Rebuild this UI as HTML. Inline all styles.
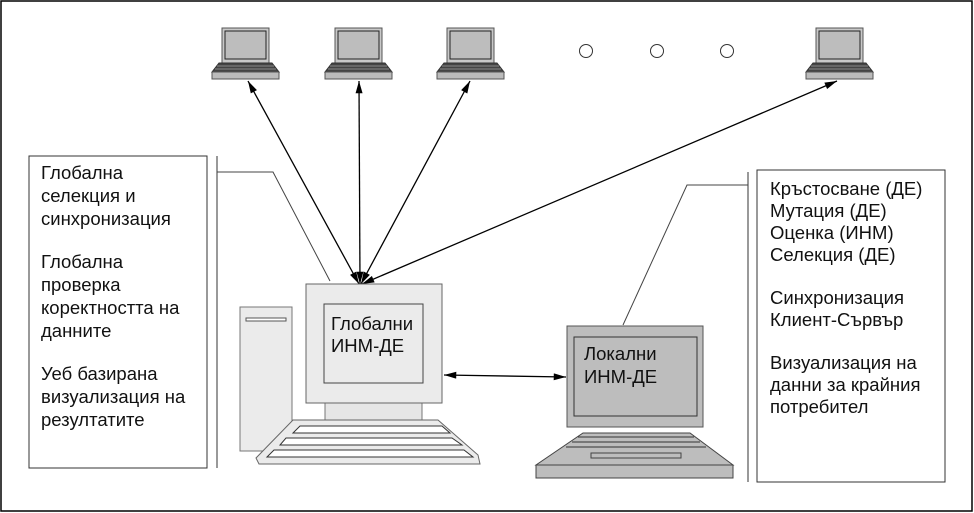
<!DOCTYPE html>
<html><head><meta charset="utf-8"><style>
html,body{margin:0;padding:0;background:#fff}
svg{display:block}
text{font-family:"Liberation Sans","DejaVu Sans",sans-serif;fill:#111}
</style></head><body>
<svg width="974" height="513" viewBox="0 0 974 513" xmlns="http://www.w3.org/2000/svg">
<defs>
<marker id="ah" viewBox="0 0 14 8" refX="14" refY="4" markerWidth="14" markerHeight="7" orient="auto-start-reverse" markerUnits="userSpaceOnUse"><path d="M0,0 L14,4 L0,8 Z" fill="#000"/></marker>
<g id="lap">
<rect x="0" y="0" width="47" height="35" fill="#c8c8c8" stroke="#555" stroke-width="1"/>
<rect x="3" y="3" width="41" height="28" fill="#bdbdbd" stroke="#222" stroke-width="1"/>
<path d="M-3,35 L50,35 L57,44 L-10,44 Z" fill="#444" stroke="#333"/>
<line x1="-5" y1="38" x2="52" y2="38" stroke="#888"/>
<line x1="-7" y1="41" x2="54" y2="41" stroke="#888"/>
<rect x="-10" y="44" width="67" height="7" fill="#bbb" stroke="#555"/>
</g>
</defs>
<rect x="1" y="1" width="971" height="510" fill="#fff" stroke="#000" stroke-width="1.5"/>
<use href="#lap" x="222" y="28"/>
<use href="#lap" x="335" y="28"/>
<use href="#lap" x="447" y="28"/>
<use href="#lap" x="816" y="28"/>
<circle cx="586" cy="51" r="6.5" fill="#fff" stroke="#333"/>
<circle cx="657" cy="51" r="6.5" fill="#fff" stroke="#333"/>
<circle cx="727" cy="51" r="6.5" fill="#fff" stroke="#333"/>
<g stroke="#000" stroke-width="1.3" marker-start="url(#ah)" marker-end="url(#ah)">
<line x1="248" y1="81" x2="359" y2="284"/>
<line x1="359" y1="81" x2="360" y2="284"/>
<line x1="470" y1="81" x2="361" y2="284"/>
<line x1="837" y1="81" x2="362" y2="284"/>
<line x1="444" y1="375" x2="566" y2="377"/>
</g>
<!-- left box -->
<rect x="29" y="156" width="178" height="312" fill="#fff" stroke="#333"/>
<line x1="217" y1="156" x2="217" y2="468" stroke="#333"/>
<polyline points="217,172 273,172 330,281" fill="none" stroke="#444"/>
<g font-size="18.5">
<text x="41" y="179">Глобална</text>
<text x="41" y="202">селекция и</text>
<text x="41" y="225">синхронизация</text>
<text x="41" y="268">Глобална</text>
<text x="41" y="291">проверка</text>
<text x="41" y="314">коректността на</text>
<text x="41" y="337">данните</text>
<text x="41" y="380">Уеб базирана</text>
<text x="41" y="403">визуализация на</text>
<text x="41" y="426">резултатите</text>
</g>
<!-- right box -->
<rect x="757" y="170" width="188" height="312" fill="#fff" stroke="#333"/>
<line x1="748" y1="172" x2="748" y2="482" stroke="#333"/>
<polyline points="748,185 687,185 623,325" fill="none" stroke="#444"/>
<g font-size="18.5">
<text x="770" y="195">Кръстосване (ДЕ)</text>
<text x="770" y="217">Мутация (ДЕ)</text>
<text x="770" y="239">Оценка (ИНМ)</text>
<text x="770" y="261">Селекция (ДЕ)</text>
<text x="770" y="304">Синхронизация</text>
<text x="770" y="326">Клиент-Сървър</text>
<text x="770" y="369">Визуализация на</text>
<text x="770" y="391">данни за крайния</text>
<text x="770" y="413">потребител</text>
</g>
<!-- desktop -->
<rect x="240" y="307" width="52" height="144" fill="#ebebeb" stroke="#777"/>
<rect x="246" y="318" width="40" height="3" fill="#fff" stroke="#555"/>
<rect x="325" y="403" width="97" height="18" fill="#e6e6e6" stroke="#777"/>
<rect x="306" y="284" width="136" height="119" fill="#ebebeb" stroke="#666"/>
<rect x="324" y="304" width="99" height="79" fill="#ebebeb" stroke="#444"/>
<text x="331" y="330" font-size="18.5">Глобални</text>
<text x="331" y="352" font-size="18.5">ИНМ-ДЕ</text>
<path d="M293,420 L438,420 L478,455 L480,464 L259,464 L256,458 Z" fill="#ebebeb" stroke="#666"/>
<path d="M300,426 L442,426 L450,433 L293,433 Z" fill="#fff" stroke="#333"/>
<path d="M286,438 L452,438 L462,445 L280,445 Z" fill="#fff" stroke="#333"/>
<path d="M274,450 L464,450 L473,457 L267,457 Z" fill="#fff" stroke="#333"/>
<!-- laptop -->
<rect x="567" y="326" width="136" height="101" fill="#bdbdbd" stroke="#555"/>
<rect x="574" y="337" width="123" height="79" fill="#bdbdbd" stroke="#333"/>
<text x="584" y="360" font-size="18.5">Локални</text>
<text x="584" y="383" font-size="18.5">ИНМ-ДЕ</text>
<path d="M583,433 L690,433 L733,465 L536,465 Z" fill="#bdbdbd" stroke="#444"/>
<line x1="578" y1="437" x2="694" y2="437" stroke="#333"/>
<line x1="572" y1="442" x2="700" y2="442" stroke="#333"/>
<line x1="566" y1="447" x2="706" y2="447" stroke="#333"/>
<rect x="591" y="453" width="90" height="5" fill="#bdbdbd" stroke="#444"/>
<rect x="536" y="465" width="197" height="13" fill="#bdbdbd" stroke="#444"/>
</svg>
</body></html>
